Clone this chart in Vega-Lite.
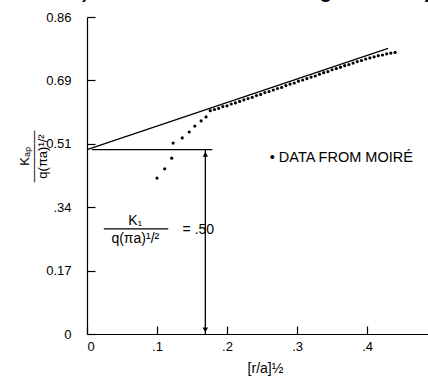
{
  "$schema": "https://vega.github.io/schema/vega-lite/v6.json",
  "width": 341,
  "height": 317,
  "autosize": {"type": "none"},
  "padding": {"left": 87, "top": 17, "right": 0, "bottom": 48},
  "background": "white",
  "title": {"text": "2) Starter crack geometry", "font": "Liberation Mono", "fontSize": 25, "fontWeight": "normal", "anchor": "start", "frame": "group", "baseline": "alphabetic", "offset": 0, "dy": 11, "dx": -24, "color": "black"},
  "config": {
    "view": {"stroke": null},
    "axis": {"grid": false, "domainColor": "black", "tickColor": "black", "labelColor": "black", "titleColor": "black", "labelFont": "Liberation Sans", "titleFont": "Liberation Sans", "labelFontSize": 13, "titleFontWeight": "normal", "domainWidth": 1.2, "tickWidth": 1.2, "tickSize": -8}
  },
  "datasets": {
    "pts": [
      {"x": 0.100, "y": 0.423}, {"x": 0.111, "y": 0.448}, {"x": 0.121, "y": 0.477}, {"x": 0.123, "y": 0.518},
      {"x": 0.136, "y": 0.532}, {"x": 0.146, "y": 0.548}, {"x": 0.154, "y": 0.564}, {"x": 0.163, "y": 0.578},
      {"x": 0.170, "y": 0.589}, {"x": 0.176, "y": 0.606}, {"x": 0.182, "y": 0.609}, {"x": 0.188, "y": 0.612},
      {"x": 0.194, "y": 0.617}, {"x": 0.200, "y": 0.619}, {"x": 0.206, "y": 0.624}, {"x": 0.212, "y": 0.627},
      {"x": 0.218, "y": 0.631}, {"x": 0.224, "y": 0.635}, {"x": 0.230, "y": 0.639}, {"x": 0.236, "y": 0.642},
      {"x": 0.242, "y": 0.647}, {"x": 0.248, "y": 0.650}, {"x": 0.254, "y": 0.655}, {"x": 0.260, "y": 0.658},
      {"x": 0.266, "y": 0.662}, {"x": 0.272, "y": 0.666}, {"x": 0.278, "y": 0.669}, {"x": 0.284, "y": 0.674},
      {"x": 0.290, "y": 0.678}, {"x": 0.296, "y": 0.681}, {"x": 0.302, "y": 0.686}, {"x": 0.308, "y": 0.689},
      {"x": 0.314, "y": 0.693}, {"x": 0.320, "y": 0.697}, {"x": 0.326, "y": 0.700}, {"x": 0.332, "y": 0.705},
      {"x": 0.338, "y": 0.709}, {"x": 0.344, "y": 0.712}, {"x": 0.350, "y": 0.717}, {"x": 0.356, "y": 0.720},
      {"x": 0.362, "y": 0.724}, {"x": 0.368, "y": 0.728}, {"x": 0.374, "y": 0.731}, {"x": 0.380, "y": 0.735},
      {"x": 0.386, "y": 0.739}, {"x": 0.392, "y": 0.742}, {"x": 0.398, "y": 0.746}, {"x": 0.404, "y": 0.749},
      {"x": 0.410, "y": 0.752}, {"x": 0.416, "y": 0.755}, {"x": 0.422, "y": 0.757}, {"x": 0.428, "y": 0.760},
      {"x": 0.434, "y": 0.762}, {"x": 0.440, "y": 0.764}
    ],
    "segs": [
      {"x": 0.0, "y": 0.500, "x2": 0.430, "y2": 0.775},
      {"x": 0.007, "y": 0.500, "x2": 0.179, "y2": 0.500},
      {"x": 0.169, "y": 0.500, "x2": 0.169, "y2": 0.0},
      {"x": 0.024, "y": 0.285, "x2": 0.116, "y2": 0.285}
    ],
    "heads": [
      {"x": 0.169, "y": 0.487, "shape": "triangle-up"},
      {"x": 0.169, "y": 0.011, "shape": "triangle-down"}
    ],
    "centered": [
      {"x": 0.069, "y": 0.306, "text": "K₁"},
      {"x": 0.069, "y": 0.258, "text": "q(πa)¹/²"},
      {"x": 0.159, "y": 0.282, "text": "= .50"}
    ],
    "legend": [
      {"x": 0.261, "y": 0.477, "text": "• DATA FROM MOIRÉ"}
    ]
  },
  "layer": [
    {
      "data": {"name": "pts"},
      "mark": {"type": "circle", "color": "black", "size": 10, "opacity": 1},
      "encoding": {
        "x": {"field": "x", "type": "quantitative", "scale": {"domain": [0, 0.487], "nice": false, "zero": false},
          "axis": {"values": [0, 0.1, 0.2, 0.3, 0.4], "labelExpr": "datum.value == 0 ? '0' : '.' + format(datum.value * 10, 'd')", "labelPadding": 14, "title": "[r/a]½", "titleFontSize": 14, "titleX": 178, "titleY": 34, "titleBaseline": "middle"}},
        "y": {"field": "y", "type": "quantitative", "scale": {"domain": [0, 0.86], "nice": false, "zero": false},
          "axis": {"values": [0, 0.086, 0.172, 0.258, 0.344, 0.43, 0.516, 0.602, 0.688, 0.774, 0.86],
            "labelExpr": "datum.value < 0.01 ? '0' : abs(datum.value - 0.172) < 0.001 ? '0.17' : abs(datum.value - 0.344) < 0.001 ? '.34' : abs(datum.value - 0.516) < 0.001 ? '0.51' : abs(datum.value - 0.688) < 0.001 ? '0.69' : abs(datum.value - 0.86) < 0.001 ? '0.86' : ''",
            "labelPadding": 24,
            "title": ["Kₐₚ", "――――", "q(πa)¹/²"], "titleFontSize": 13, "titleLineHeight": 9, "titleX": -63, "titleY": 139, "titleAlign": "center", "titleBaseline": "middle"}}
      }
    },
    {
      "data": {"name": "segs"},
      "mark": {"type": "rule", "color": "black", "strokeWidth": 1.3},
      "encoding": {
        "x": {"field": "x", "type": "quantitative"},
        "y": {"field": "y", "type": "quantitative"},
        "x2": {"field": "x2"},
        "y2": {"field": "y2"}
      }
    },
    {
      "data": {"name": "heads"},
      "mark": {"type": "point", "filled": true, "color": "black", "size": 30, "opacity": 1},
      "encoding": {
        "x": {"field": "x", "type": "quantitative"},
        "y": {"field": "y", "type": "quantitative"},
        "shape": {"field": "shape", "type": "nominal", "scale": null, "legend": null}
      }
    },
    {
      "data": {"name": "centered"},
      "mark": {"type": "text", "font": "Liberation Sans", "fontSize": 14, "align": "center", "baseline": "middle", "color": "black"},
      "encoding": {
        "x": {"field": "x", "type": "quantitative"},
        "y": {"field": "y", "type": "quantitative"},
        "text": {"field": "text"}
      }
    },
    {
      "data": {"name": "legend"},
      "mark": {"type": "text", "font": "Liberation Sans", "fontSize": 14.5, "align": "left", "baseline": "middle", "color": "black"},
      "encoding": {
        "x": {"field": "x", "type": "quantitative"},
        "y": {"field": "y", "type": "quantitative"},
        "text": {"field": "text"}
      }
    }
  ]
}
